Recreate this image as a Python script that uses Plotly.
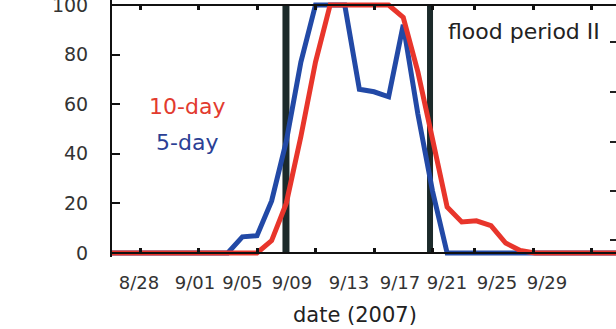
import plotly.graph_objects as go

# ---------------- data ----------------
# days counted from 8/28/2007 (daily values, 8/26 .. 9/30)
days = list(range(-2, 34))
five_day = [0, 0, 0, 0, 0, 0, 0, 0,          # 8/26 - 9/02
            0, 6.5, 7, 21, 45, 77, 100, 100,  # 9/03 - 9/10
            100, 66, 65, 63, 92, 56, 25, 0,   # 9/11 - 9/18
            0, 0, 0, 0, 0, 0, 0, 0,           # 9/19 - 9/26
            0, 0, 0, 0]                       # 9/27 - 9/30
ten_day = [0, 0, 0, 0, 0, 0, 0, 0,
           0, 0, 0, 5, 20, 47, 77, 100,
           100, 100, 100, 100, 95, 73, 46, 18.5,
           12.5, 13, 11, 4, 1, 0, 0, 0,
           0, 0, 0, 0]

tick_labels = ["8/28", "9/01", "9/05", "9/09", "9/13", "9/17", "9/21", "9/25", "9/29"]
tick_label_pos = [-0.07, 3.76, 7.01, 10.39, 14.29, 17.78, 20.99, 24.41, 27.83]
tick_mark_pos = [0, 4, 8, 12, 16, 20, 22.9, 26.9, 30.9]
y_ticks = [0, 20, 40, 60, 80, 100]
right_ticks = [5.2, 25, 44.8, 64.9, 85.1]
flood_bounds = [9.98, 19.83]

RED = "#e8352b"
BLUE = "#2249a6"
DARK = "#1c2a2a"

# ---------------- geometry ----------------
W, H = 616, 329
L, R, T, B = 112, 0, 0, 72
ph = H - T - B                 # plot height in px (257)
ppu = 2.48                     # px per y unit
y_top = 100 + 5 / ppu
y_bot = -(ph - 248 - 5) / ppu
x_rng = [-1.915, 32.547]
pos0 = (ph - 253) / ph
pos100 = (ph - 5) / ph

fig = go.Figure()
fig.add_trace(go.Scatter(x=days, y=five_day, mode="lines",
                         line=dict(color=BLUE, width=5), hoverinfo="skip",
                         showlegend=False))
fig.add_trace(go.Scatter(x=days, y=ten_day, mode="lines",
                         line=dict(color=RED, width=5), hoverinfo="skip",
                         showlegend=False))
# empty traces to register the extra axes
fig.add_trace(go.Scatter(x=[], y=[], xaxis="x3", yaxis="y", showlegend=False))
fig.add_trace(go.Scatter(x=[], y=[], xaxis="x", yaxis="y2", showlegend=False))

for xb, w in zip(flood_bounds, [7, 6]):
    fig.add_shape(type="line", xref="x", yref="y", x0=xb, x1=xb, y0=0, y1=100,
                  line=dict(color=DARK, width=w), layer="below")

tickfont = dict(family="DejaVu Sans", size=18, color="#333333")

fig.update_layout(
    width=W, height=H,
    margin=dict(l=L, r=R, t=T, b=B, pad=0, autoexpand=False),
    paper_bgcolor="white", plot_bgcolor="white",
    showlegend=False,
    xaxis=dict(range=x_rng, anchor="free", position=pos0, automargin=False,
               showgrid=False, zeroline=False,
               showline=True, linecolor="#111111", linewidth=2,
               tickmode="array", tickvals=tick_label_pos, ticktext=tick_labels,
               ticks="", tickfont=tickfont, ticklabelstandoff=13,
               minor=dict(tickmode="array", tickvals=tick_mark_pos,
                          ticks="inside", ticklen=4, tickwidth=3,
                          tickcolor="#111111", showgrid=False)),
    xaxis3=dict(range=x_rng, overlaying="x", anchor="free", position=pos100,
                automargin=False,
                side="top", showgrid=False, zeroline=False,
                showline=True, linecolor="#111111", linewidth=2,
                tickmode="array", tickvals=tick_mark_pos, ticks="inside",
                ticklen=4, tickwidth=3, tickcolor="#111111",
                showticklabels=False),
    yaxis=dict(range=[y_bot, y_top], automargin=False,
               showgrid=False, zeroline=False,
               showline=True, linecolor="#111111", linewidth=2,
               tickmode="array", tickvals=y_ticks, ticks="inside",
               ticklen=8, tickwidth=2, tickcolor="#111111",
               tickfont=dict(family="DejaVu Sans", size=19, color="#333333"),
               ticklabelstandoff=18, ticklabeloverflow="allow"),
    yaxis2=dict(range=[y_bot, y_top], overlaying="y", side="right", anchor="x",
                automargin=False,
                showgrid=False, zeroline=False, showline=False,
                tickmode="array", tickvals=right_ticks, ticks="inside",
                ticklen=6, tickwidth=2, tickcolor="#222222",
                showticklabels=False),
)

def px_x(px):
    return (px - L) / (W - L - R)

def px_y(py):
    return (ph - py) / ph

fig.add_annotation(text="10-day", xref="paper", yref="paper",
                   x=px_x(147), y=px_y(107), xanchor="left", yanchor="middle",
                   showarrow=False,
                   font=dict(family="DejaVu Sans", size=22, color="#e23b2f"))
fig.add_annotation(text="5-day", xref="paper", yref="paper",
                   x=px_x(154), y=px_y(142), xanchor="left", yanchor="middle",
                   showarrow=False,
                   font=dict(family="DejaVu Sans", size=22, color="#2b3f95"))
fig.add_annotation(text="flood period II", xref="paper", yref="paper",
                   x=px_x(446), y=px_y(31), xanchor="left", yanchor="middle",
                   showarrow=False,
                   font=dict(family="DejaVu Sans", size=22, color="#222222"))
fig.add_annotation(text="date (2007)", xref="paper", yref="paper",
                   x=px_x(355), y=px_y(315), xanchor="center", yanchor="middle",
                   showarrow=False,
                   font=dict(family="DejaVu Sans", size=21, color="#222222"))

fig.write_html("out.html",
               config={"displayModeBar": False},
               post_script="document.body.style.margin='0';"
                           "document.body.style.overflow='hidden';")
